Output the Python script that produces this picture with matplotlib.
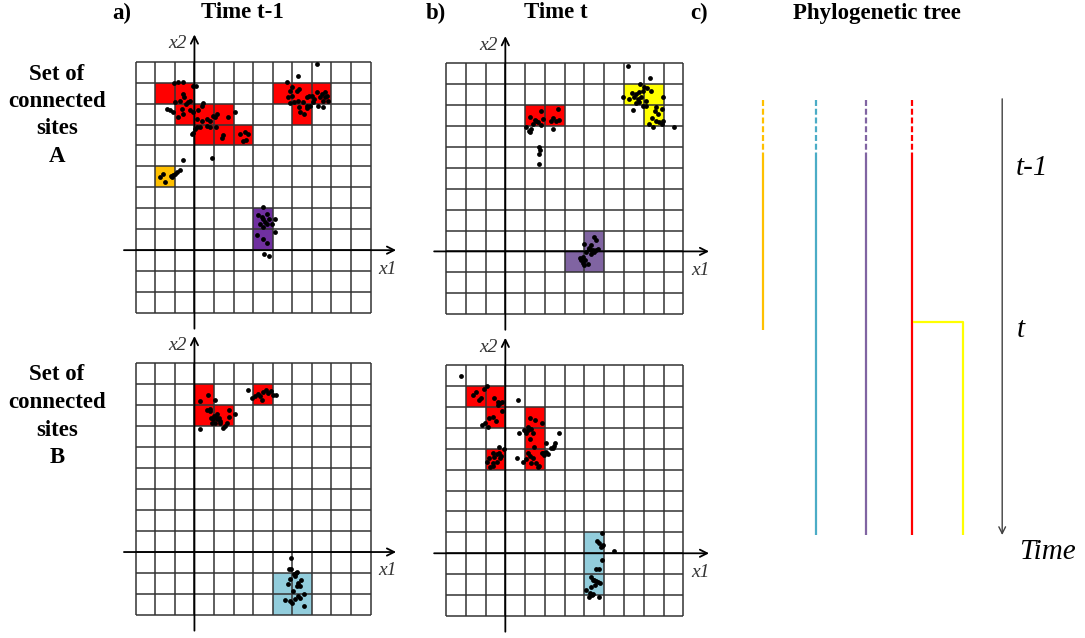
import matplotlib
matplotlib.use('Agg')
import matplotlib.pyplot as plt

plt.rcParams['font.family'] = ['Liberation Serif', 'DejaVu Serif']
plt.rcParams['lines.scale_dashes'] = False

W, H = 1085, 638

# --- colours
RED = '#FF0000'
ORANGE = '#FFC000'
PURPLE_A = '#7030A0'
PURPLE_B = '#8064A2'
YELLOW = '#FFFF00'
CELL_BLUE = '#92CDDC'
TREE_BLUE = '#4BACC6'

# --- occupied cells (lower-left corner of each grid cell)
a_top_red = [(-2, 7), (-1, 7), (-1, 6), (0, 6), (1, 6), (0, 5), (1, 5), (2, 5),
             (4, 7), (5, 7), (6, 7), (5, 6)]
a_top_orange = [(-2, 3)]
a_top_purple = [(3, 1), (3, 0)]
b_top_red = [(1, 6), (2, 6)]
b_top_yellow = [(6, 7), (7, 7), (7, 6)]
b_top_purple = [(4, 0), (3, -1), (4, -1)]
a_bot_red = [(0, 7), (3, 7), (0, 6), (1, 6)]
a_bot_blue = [(4, -2), (5, -2), (4, -3), (5, -3)]
b_bot_red = [(-2, 7), (-1, 7), (-1, 6), (1, 6), (1, 5), (-1, 4), (1, 4)]
b_bot_blue = [(4, 0), (4, -1), (4, -2)]

# --- individuals (x1, x2)
a_top_dots = [
    (-1.02, 7.98), (-0.85, 8.02), (-0.56, 8.02), (-0.09, 7.86), (0.09, 7.83), (-0.56, 7.46),
    (-0.53, 7.30), (-0.73, 7.14), (-0.22, 7.14), (-0.31, 7.06), (-0.43, 6.98), (-0.99, 7.06),
    (-1.41, 6.75), (-1.24, 6.67), (-1.11, 6.59), (-0.65, 6.75), (-0.82, 6.35), (-0.60, 6.51),
    (-0.22, 6.67), (-0.05, 6.59), (0.20, 6.67), (0.46, 7.02), (0.37, 6.90), (0.15, 6.27),
    (0.37, 6.19), (0.63, 6.27), (0.80, 6.19), (1.06, 6.35), (1.14, 6.51), (0.97, 6.43),
    (1.69, 6.35), (2.08, 6.59), (0.12, 5.87), (0.29, 5.87), (0.03, 5.79), (-0.09, 5.59),
    (-0.14, 5.56), (0.63, 5.95), (0.80, 5.87), (1.11, 5.87), (1.48, 5.48), (1.43, 5.37),
    (2.33, 5.56), (2.59, 5.63), (2.64, 5.27), (2.50, 5.19), (2.71, 5.56), (-0.56, 4.29),
    (0.92, 4.41),
    (-1.75, 3.49), (-1.62, 3.62), (-1.50, 3.25), (-1.16, 3.49), (-1.07, 3.57), (-0.99, 3.62),
    (-0.90, 3.73), (-0.73, 3.81), (-1.19, 3.52),
    (3.52, 2.06), (3.27, 1.67), (3.69, 1.75), (3.49, 1.51), (3.83, 1.51), (3.61, 1.35),
    (3.73, 1.24), (3.52, 1.11), (4.12, 1.48), (3.35, 1.27), (3.95, 1.27), (4.09, 0.87),
    (3.18, 0.71), (3.49, 0.51), (3.73, 0.35), (3.56, -0.19), (3.83, -0.29), (3.44, 1.59),
    (6.25, 8.89), (5.28, 8.30), (4.71, 8.02), (4.97, 7.78), (4.89, 7.62), (5.23, 7.62),
    (5.34, 7.70), (4.97, 7.38), (4.80, 7.30), (5.06, 7.06), (4.89, 7.02), (5.31, 7.14),
    (5.53, 7.06), (5.74, 7.30), (5.87, 7.38), (5.99, 7.38), (6.11, 7.22), (6.25, 7.54),
    (6.50, 7.46), (6.67, 7.54), (6.76, 7.38), (6.59, 7.14), (6.84, 7.11), (6.33, 6.90),
    (6.59, 6.83), (5.91, 6.90), (5.74, 6.90), (5.40, 6.59), (5.57, 6.51), (6.08, 7.06),
    (6.42, 7.30), (6.67, 7.33), (5.77, 6.79), (5.36, 6.83)]

b_top_dots = [
    (1.05, 5.94), (1.18, 5.78), (1.25, 5.70), (1.30, 5.86), (1.42, 6.10), (1.55, 6.26),
    (1.64, 6.18), (1.80, 6.07), (1.89, 6.34), (1.80, 6.74), (1.52, 6.29), (1.25, 6.45),
    (2.31, 6.26), (2.43, 6.39), (2.56, 6.26), (2.70, 6.29), (2.65, 6.82), (2.39, 5.86),
    (1.72, 4.98), (1.72, 4.67), (1.72, 4.19), (1.75, 4.86),
    (6.19, 8.89), (7.32, 8.28), (6.81, 8.01), (7.03, 7.88), (7.15, 7.82), (7.37, 7.69),
    (6.95, 7.69), (6.78, 7.61), (6.61, 7.53), (6.41, 7.56), (5.94, 7.40), (6.24, 7.29),
    (6.48, 7.37), (6.69, 7.29), (6.78, 7.13), (6.61, 7.09), (6.44, 6.77), (6.95, 6.97),
    (7.12, 6.97), (7.62, 6.89), (7.93, 6.82), (7.59, 6.74), (7.71, 6.58), (7.62, 6.26),
    (7.79, 6.18), (7.96, 6.26), (7.93, 6.10), (7.45, 5.94), (7.28, 6.10), (8.55, 5.94),
    (7.99, 7.40), (6.86, 7.37), (7.12, 7.21), (7.42, 6.39),
    (4.50, 0.68), (4.59, 0.53), (4.33, 0.29), (4.25, 0.13), (4.42, 0.05), (4.50, -0.03),
    (4.59, 0.05), (4.67, 0.13), (4.33, 0.05), (4.08, -0.03), (4.00, 0.37), (3.91, -0.27),
    (3.83, -0.43), (3.91, -0.54), (4.00, -0.67), (4.17, -0.59), (4.33, -0.11), (4.25, 0.18),
    (4.05, -0.43), (3.78, -0.32)]

a_bot_dots = [
    (0.68, 7.48), (0.29, 7.19), (1.06, 7.27), (0.63, 6.79), (0.77, 6.83), (0.80, 6.71),
    (0.83, 6.40), (1.00, 6.51), (1.11, 6.44), (1.14, 6.32), (1.23, 6.40), (0.97, 6.32),
    (1.06, 6.16), (0.89, 6.16), (1.31, 6.16), (1.48, 5.92), (1.57, 6.00), (1.65, 6.16),
    (1.79, 6.76), (2.08, 6.60), (1.74, 6.44), (0.29, 5.89), (1.31, 6.24), (1.17, 6.56),
    (2.76, 7.75), (2.93, 7.35), (3.10, 7.43), (3.27, 7.54), (3.44, 7.24), (3.52, 7.62),
    (3.66, 7.75), (3.78, 7.59), (3.90, 7.67), (4.00, 7.51), (4.17, 7.48), (3.35, 7.43),
    (4.94, -0.27), (4.94, -0.83), (5.06, -1.06), (5.19, -0.98), (5.26, -0.95), (5.14, -1.14),
    (4.89, -1.30), (5.43, -1.33), (5.31, -1.46), (5.40, -1.62), (5.23, -1.62), (4.80, -1.54),
    (5.60, -2.02), (5.31, -2.10), (5.40, -2.17), (5.14, -2.25), (4.89, -2.33), (4.97, -2.41),
    (4.63, -2.29), (5.57, -2.57), (5.02, -1.86), (4.85, -0.83)]

b_bot_dots = [
    (-2.24, 8.49), (-0.94, 7.99), (-1.06, 7.83), (-1.65, 7.56), (-1.48, 7.72), (-1.32, 7.32),
    (-1.23, 7.40), (-0.56, 7.40), (-0.39, 7.25), (-0.27, 7.17), (-0.17, 7.25), (-0.39, 7.09),
    (-0.17, 6.82), (-0.64, 6.50), (-0.81, 6.45), (-0.47, 6.34), (-1.01, 6.24), (-1.18, 6.13),
    (-0.89, 6.02), (0.62, 7.32), (-0.30, 5.10), (-0.05, 4.97), (-0.44, 4.75), (-0.56, 4.62),
    (-0.64, 4.78), (-0.81, 4.54), (-0.94, 4.38), (-0.61, 4.30), (-0.44, 4.38), (-0.27, 4.54),
    (-0.22, 4.65), (-0.34, 4.81), (-0.78, 4.11), (-0.61, 4.17),
    (1.25, 6.45), (1.52, 6.37), (1.85, 6.21), (1.30, 5.92), (1.13, 5.89), (0.96, 5.89),
    (0.71, 5.76), (1.05, 5.73), (1.38, 5.73), (1.25, 5.45), (1.47, 5.06), (1.13, 4.81),
    (1.25, 4.65), (1.42, 4.54), (1.55, 4.30), (1.72, 4.17), (1.64, 4.14), (1.30, 4.30),
    (1.05, 4.49), (0.88, 4.38), (0.57, 4.54), (1.89, 4.78), (2.06, 4.86), (2.14, 4.75),
    (1.97, 4.70), (1.85, 4.78), (2.31, 5.02), (2.48, 5.13), (2.39, 5.02), (2.51, 5.25),
    (2.73, 5.76), (2.06, 5.25), (1.13, 6.05),
    (4.89, 0.99), (4.62, 0.61), (4.72, 0.48), (4.89, 0.35), (4.96, 0.40), (4.84, 0.32),
    (5.51, 0.13), (4.89, -0.32), (4.59, -0.76), (4.72, -0.76), (4.33, -1.15), (4.42, -1.27),
    (4.50, -1.27), (4.59, -1.31), (4.67, -1.35), (4.79, -1.43), (4.08, -1.75), (4.28, -1.88),
    (4.38, -1.99), (4.25, -2.07), (4.45, -1.94), (4.72, -2.07), (4.55, -1.51), (4.33, -1.59)]

# --- phylogenetic tree (lineage positions and times)
lineage_colors = [ORANGE, TREE_BLUE, PURPLE_B, RED]
lineage_x = [0.0, 1.06, 2.06, 2.98]
lineage_end = [3.97, 7.5, 7.5, 7.5]
yellow_x = 4.0
tree_top = 0.0
dash_end = 1.0
split_time = 3.83
tree_end = 7.5
time_axis_x = 4.79

fig = plt.figure(figsize=(W / 100, H / 100), dpi=100)


def px_axes(left, top, right, bottom):
    ax = fig.add_axes([left / W, 1 - bottom / H, (right - left) / W, (bottom - top) / H])
    ax.set_axis_off()
    ax.patch.set_alpha(0)
    return ax


def grid_panel(left, top, cw, ch, fills, dots):
    ax = px_axes(left - cw, top - 2 * ch, left + 14 * cw, top + 13 * ch)
    ax.set_xlim(-4, 11)
    ax.set_ylim(-4, 11)
    for cells, color in fills:
        ax.bar([c[0] for c in cells], 1, bottom=[c[1] for c in cells], width=1,
               align='edge', color=color, linewidth=0, zorder=1)
    ticks = range(-3, 10)
    ax.vlines(ticks, -3, 9, color='#333333', lw=1.1, zorder=2)
    ax.hlines(ticks, -3, 9, color='#333333', lw=1.1, zorder=2)
    ax.annotate('', xy=(10.3, 0), xytext=(-3.6, 0),
                arrowprops=dict(arrowstyle='->', lw=1.3, color='black', mutation_scale=13,
                                shrinkA=0, shrinkB=0), zorder=3)
    ax.annotate('', xy=(0, 10.3), xytext=(0, -3.75),
                arrowprops=dict(arrowstyle='->', lw=1.3, color='black', mutation_scale=13,
                                shrinkA=0, shrinkB=0), zorder=3)
    ax.text(-0.85, 9.85, 'x2', style='italic', fontsize=14, color='#333333',
            ha='center', va='center')
    ax.text(9.85, -0.9, 'x1', style='italic', fontsize=14, color='#333333',
            ha='center', va='center')
    ax.scatter([d[0] for d in dots], [d[1] for d in dots], s=12, color='black',
               linewidths=0, zorder=4)
    return ax


grid_panel(135.7, 61.7, 19.58, 20.94,
           [(a_top_red, RED), (a_top_orange, ORANGE), (a_top_purple, PURPLE_A)], a_top_dots)
grid_panel(446.0, 63.3, 19.78, 20.9,
           [(b_top_red, RED), (b_top_yellow, YELLOW), (b_top_purple, PURPLE_B)], b_top_dots)
grid_panel(135.7, 363.3, 19.58, 20.97,
           [(a_bot_red, RED), (a_bot_blue, CELL_BLUE)], a_bot_dots)
grid_panel(446.0, 365.0, 19.78, 20.92,
           [(b_bot_red, RED), (b_bot_blue, CELL_BLUE)], b_bot_dots)

# --- tree panel
ax = px_axes(730, 80, 1085, 600)
ax.set_xlim(-0.654, 6.446)
ax.set_ylim(8.62, -0.345)
for x, end, c in zip(lineage_x, lineage_end, lineage_colors):
    ax.plot([x, x], [tree_top, dash_end], color=c, lw=1.6, dashes=(4.3, 2.0))
    ax.plot([x, x], [dash_end, end], color=c, lw=1.6, solid_capstyle='butt')
ax.plot([lineage_x[3] + 0.02, yellow_x, yellow_x], [split_time, split_time, tree_end],
        color=YELLOW, lw=1.6, solid_capstyle='butt')
ax.annotate('', xy=(time_axis_x, tree_end), xytext=(time_axis_x, tree_top - 0.02),
            arrowprops=dict(arrowstyle='->', lw=1.0, color='#404040', mutation_scale=12,
                            shrinkA=0, shrinkB=0))
ax.text(5.39, 1.17, 't-1', style='italic', fontsize=21, ha='center', va='center')
ax.text(5.17, 3.97, 't', style='italic', fontsize=21, ha='center', va='center')
ax.text(5.69, 7.79, 'Time', style='italic', fontsize=21, ha='center', va='center')

# --- headings
bold = dict(fontsize=16.5, fontweight='bold', ha='center', va='center')
for x, label in [(122, 'a)'), (242, 'Time t-1'), (436, 'b)'), (556, 'Time t'),
                 (699, 'c)'), (877, 'Phylogenetic tree')]:
    fig.text(x / W, 1 - 13 / H, label, **bold)
for y0, letter in [(74, 'A'), (375, 'B')]:
    for i, line in enumerate(['Set of', 'connected', 'sites', letter]):
        fig.text(57 / W, 1 - (y0 + i * 27.5) / H, line, **bold)

fig.savefig('out.png', dpi=100)
